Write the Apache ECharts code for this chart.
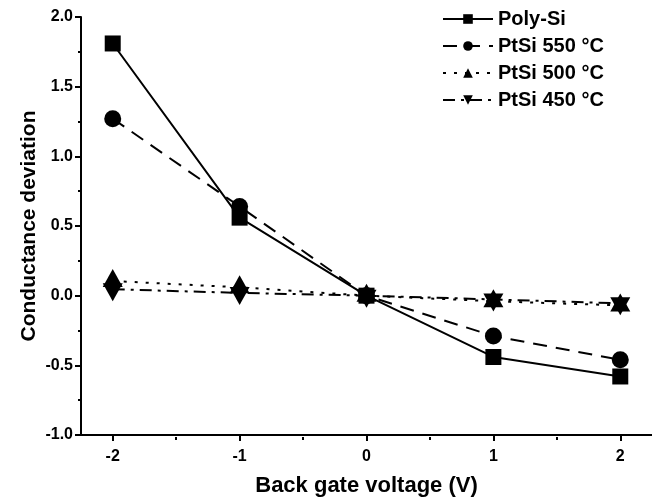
<!DOCTYPE html>
<html>
<head>
<meta charset="utf-8">
<script src="https://cdn.jsdelivr.net/npm/echarts@6/dist/echarts.min.js"></script>
<style>
  html, body { margin: 0; padding: 0; background: #fff; }
  #chart { width: 652px; height: 502px; }
</style>
</head>
<body>
<div id="chart"></div>
<script>
// back gate voltage (V)
const xValues = [-2, -1, 0, 1, 2]
// conductance deviation per sample
const polySi = [1.81, 0.56, 0, -0.44, -0.58]
const ptsi550 = [1.27, 0.64, 0, -0.29, -0.46]
const ptsi500 = [0.105, 0.06, 0, -0.04, -0.07]
const ptsi450 = [0.046, 0.02, 0, -0.027, -0.055]
const seriesNames = ['Poly-Si', 'PtSi 550 °C', 'PtSi 500 °C', 'PtSi 450 °C']
// axis ticks
const xMajorTicks = [-2, -1, 0, 1, 2]
const xMinorTicks = [-1.5, -0.5, 0.5, 1.5]

const font = 'Liberation Sans, Arial, sans-serif'

function pairs(ys) {
  return xValues.map((x, i) => [x, ys[i]])
}

const chart = echarts.init(document.getElementById('chart'))
const gridBox = { left: 81, right: 0, top: 17, bottom: 65 }

chart.setOption({
  animation: false,
  grid: [
    Object.assign({}, gridBox),
    Object.assign({}, gridBox)
  ],
  legend: {
    orient: 'vertical',
    left: 437,
    top: 4,
    itemWidth: 50,
    itemHeight: 12,
    itemGap: 7,
    textStyle: {
      fontFamily: font,
      fontWeight: 'bold',
      fontSize: 20,
      color: '#000'
    },
    data: seriesNames
  },
  xAxis: [
    {
      type: 'value',
      gridIndex: 0,
      min: -2.25,
      max: 2.25,
      name: 'Back gate voltage (V)',
      nameLocation: 'middle',
      nameGap: 40,
      nameMoveOverlap: false,
      nameTextStyle: { fontFamily: font, fontWeight: 'bold', fontSize: 22, color: '#000' },
      splitLine: { show: false },
      axisLine: { onZero: false, lineStyle: { color: '#000', width: 2 } },
      axisTick: { customValues: xMajorTicks, length: 6, lineStyle: { color: '#000', width: 2 } },
      axisLabel: {
        customValues: xMajorTicks,
        margin: 14,
        fontFamily: font,
        fontWeight: 'bold',
        fontSize: 16,
        color: '#000',
        formatter: v => String(v)
      }
    },
    {
      type: 'value',
      gridIndex: 1,
      min: -2.25,
      max: 2.25,
      splitLine: { show: false },
      axisLine: { show: false, onZero: false },
      axisTick: { customValues: xMinorTicks, length: 3, lineStyle: { color: '#000', width: 2 } },
      axisLabel: { show: false }
    }
  ],
  yAxis: [
    {
      type: 'value',
      gridIndex: 0,
      min: -1,
      max: 2,
      interval: 0.5,
      name: 'Conductance deviation',
      nameLocation: 'middle',
      nameGap: 41,
      nameMoveOverlap: false,
      nameTextStyle: { fontFamily: font, fontWeight: 'bold', fontSize: 21, color: '#000' },
      splitLine: { show: false },
      axisLine: { show: true, onZero: false, lineStyle: { color: '#000', width: 2 } },
      axisTick: { show: true, length: 6, lineStyle: { color: '#000', width: 2 } },
      minorTick: { show: true, splitNumber: 2, length: 3, lineStyle: { color: '#000', width: 2 } },
      axisLabel: {
        margin: 8,
        fontFamily: font,
        fontWeight: 'bold',
        fontSize: 16,
        color: '#000',
        formatter: v => v.toFixed(1)
      }
    },
    {
      type: 'value',
      gridIndex: 1,
      show: false,
      min: -1,
      max: 2
    }
  ],
  series: [
    {
      name: seriesNames[0],
      type: 'line',
      data: pairs(polySi),
      symbol: 'rect',
      symbolSize: 16,
      itemStyle: { color: '#000' },
      lineStyle: { color: '#000', width: 2, type: 'solid' }
    },
    {
      name: seriesNames[1],
      type: 'line',
      data: pairs(ptsi550),
      symbol: 'circle',
      symbolSize: 17,
      itemStyle: { color: '#000' },
      lineStyle: { color: '#000', width: 2, type: [14, 9] }
    },
    {
      name: seriesNames[2],
      type: 'line',
      data: pairs(ptsi500),
      symbol: 'triangle',
      symbolSize: [20, 18],
      symbolOffset: [0, -3],
      itemStyle: { color: '#000' },
      lineStyle: { color: '#000', width: 2, type: [3, 8] }
    },
    {
      name: seriesNames[3],
      type: 'line',
      data: pairs(ptsi450),
      symbol: 'triangle',
      symbolRotate: 180,
      symbolSize: [20, 18],
      symbolOffset: [0, 3],
      itemStyle: { color: '#000' },
      lineStyle: { color: '#000', width: 2, type: [12, 6, 3, 6] }
    }
  ]
})
</script>
</body>
</html>
